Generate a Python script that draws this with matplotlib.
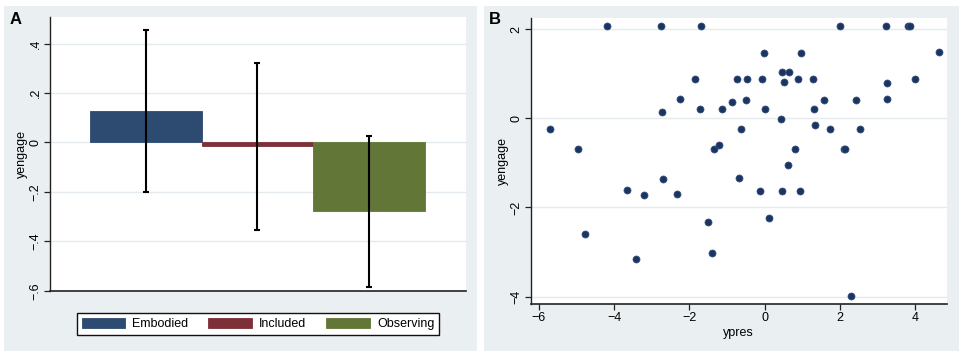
import matplotlib
matplotlib.use("Agg")
import matplotlib.pyplot as plt
from matplotlib.patches import Rectangle
import numpy as np

plt.rcParams['font.family'] = ['Liberation Sans', 'DejaVu Sans']

# ---- Panel A data ----
groups = ["Embodied", "Included", "Observing"]
means = [0.129, -0.016, -0.279]
ci_low = [-0.199, -0.356, -0.584]
ci_high = [0.455, 0.323, 0.027]
bar_colors = ["#2d4a70", "#7e3038", "#617637"]
a_yticks = [-0.6, -0.4, -0.2, 0.0, 0.2, 0.4]
a_yticklabels = ["\u2212.6", "\u2212.4", "\u2212.2", "0", ".2", ".4"]

# ---- Panel B data ----
ypres = [-4.19, -2.76, -1.70, 2.01, 3.21, 3.80, 3.86, 4.64, -0.02, 0.96,
         0.46, 0.64, 0.50, -1.86, -0.73, -0.46, -0.08, 0.88, 1.27, 4.00,
         3.24, 3.25, -2.26, -0.50, 1.58, 2.43, -0.86, -2.73, -1.73, -1.13,
         0.01, 1.30, 0.43, -5.71, -0.64, 1.34, 1.74, 2.52, -4.97, -1.35,
         -1.21, 0.81, 2.10, 2.14, 0.63, -2.70, -0.69, -3.67, -3.21, -2.33,
         -0.12, 0.46, 0.94, -1.50, 0.11, -4.78, -3.43, -1.39, 2.28]
yengage = [2.07, 2.07, 2.07, 2.07, 2.07, 2.07, 2.07, 1.49, 1.46, 1.46,
           1.03, 1.03, 0.82, 0.88, 0.88, 0.88, 0.88, 0.88, 0.88, 0.88,
           0.79, 0.44, 0.44, 0.41, 0.41, 0.41, 0.36, 0.13, 0.20, 0.20,
           0.20, 0.20, -0.01, -0.23, -0.23, -0.16, -0.23, -0.23, -0.69, -0.69,
           -0.61, -0.69, -0.68, -0.69, -1.05, -1.37, -1.35, -1.61, -1.72, -1.70,
           -1.63, -1.63, -1.63, -2.32, -2.23, -2.59, -3.15, -3.03, -3.99]
b_xticks = [-6, -4, -2, 0, 2, 4]
b_yticks = [-4, -2, 0, 2]

W, H = 963, 355
fig = plt.figure(figsize=(W / 100, H / 100), dpi=100)
fig.patch.set_facecolor("white")

bg = "#eaeff2"
grid_c = "#e3ebef"
# outer panel backgrounds
for (x0, x1) in [(4, 477), (484, 959)]:
    fig.patches.append(Rectangle((x0 / W, 1 - 351 / H), (x1 - x0) / W, (351 - 6) / H,
                                 transform=fig.transFigure, facecolor=bg,
                                 edgecolor="none", zorder=-10))


def px_axes(l, r, t, b):
    return fig.add_axes([l / W, 1 - b / H, (r - l) / W, (b - t) / H])


def style(ax):
    ax.set_facecolor("white")
    for s in ["top", "right"]:
        ax.spines[s].set_visible(False)
    for s in ["left", "bottom"]:
        ax.spines[s].set_color("#222222")
        ax.spines[s].set_linewidth(1.0)
    ax.tick_params(direction="out", length=4, width=0.9, color="#222222",
                   labelsize=9, pad=2)
    ax.grid(axis="y", color=grid_c, linewidth=1.0)
    ax.set_axisbelow(True)


# ---- Panel A ----
axA = px_axes(50, 466, 17, 290.7)
style(axA)
xpos = np.arange(len(groups))
bars = axA.bar(xpos, means, width=1.0, color=bar_colors, edgecolor=bar_colors,
               linewidth=0.6, zorder=2)
yerr = [np.array(means) - np.array(ci_low), np.array(ci_high) - np.array(means)]
axA.errorbar(xpos, means, yerr=yerr, fmt="none", ecolor="black", elinewidth=1.5,
             capsize=2.4, capthick=1.5, zorder=3)
axA.set_xlim(-0.858, 2.867)
axA.set_ylim(-0.6, 0.508)
axA.set_xticks([])
axA.set_yticks(a_yticks)
axA.set_yticklabels(a_yticklabels, rotation=90, va="center")
axA.set_ylabel("yengage", fontsize=9, labelpad=1)
axA.spines["bottom"].set_linewidth(1.2)

leg = fig.legend(bars, groups, loc="center", bbox_to_anchor=(258 / W, 1 - 324 / H),
                 ncol=3, fontsize=9, frameon=True, fancybox=False,
                 edgecolor="#111111", facecolor="white", framealpha=1,
                 handlelength=3.5, handleheight=0.9, handletextpad=0.55,
                 columnspacing=1.6, borderpad=0.4, borderaxespad=0)
leg.get_frame().set_linewidth(1.0)

fig.text(10 / W, 1 - 19 / H, "A", fontsize=12, fontweight="bold", va="center", ha="left")

# ---- Panel B ----
axB = px_axes(530.7, 946.7, 18, 304)
style(axB)
axB.scatter(ypres, yengage, s=26, color="#1b3562", edgecolors="#3a5580",
            linewidths=0.5, zorder=3)
axB.set_xlim(-6.22, 4.835)
axB.set_ylim(-4.164, 2.247)
axB.set_xticks(b_xticks)
axB.set_xticklabels(["\u22126", "\u22124", "\u22122", "0", "2", "4"])
axB.set_yticks(b_yticks)
axB.set_yticklabels(["\u22124", "\u22122", "0", "2"], rotation=90, va="center")
axB.set_xlabel("ypres", fontsize=9, labelpad=2)
axB.set_ylabel("yengage", fontsize=9, labelpad=1)
axB.spines["bottom"].set_linewidth(1.2)

fig.text(489 / W, 1 - 19 / H, "B", fontsize=12, fontweight="bold", va="center", ha="left")

fig.savefig("out.png", dpi=100)
